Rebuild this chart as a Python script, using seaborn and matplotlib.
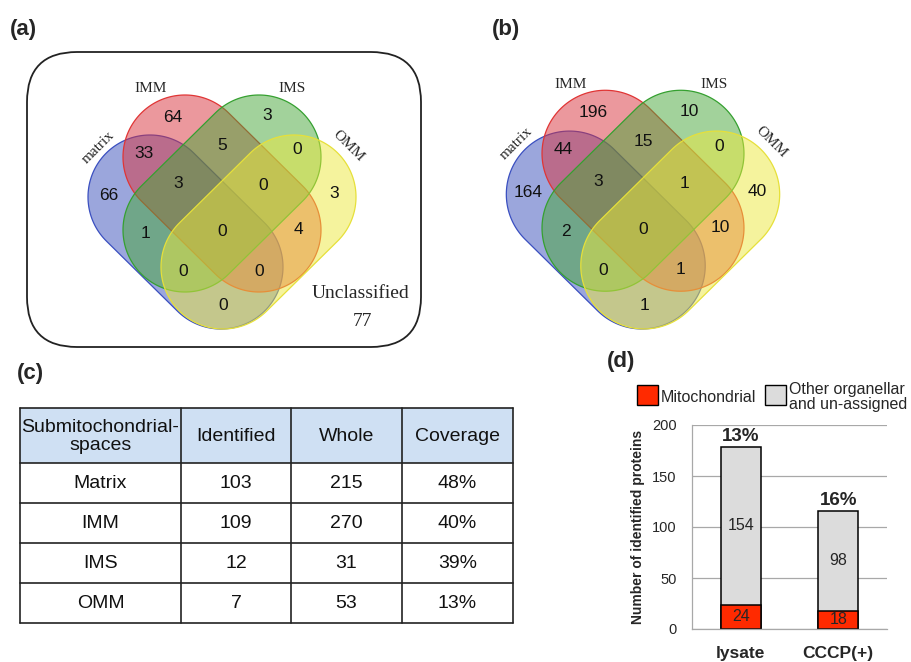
"""
Submitochondrial proteome figure: two 4-set Venn diagrams, a coverage table
and a stacked bar chart of identified proteins.
"""
import numpy as np
import pandas as pd
import matplotlib
matplotlib.use('Agg')
import matplotlib.pyplot as plt
import seaborn as sns
from matplotlib.patches import Polygon, Rectangle, FancyBboxPatch

# ---- data -------------------------------------------------------------
set_names = ["matrix", "IMM", "IMS", "OMM"]
# region order: matrix, IMM, IMS, OMM, m&IMM, IMM&IMS, IMS&OMM,
# m&IMM&IMS, IMM&IMS&OMM, all, m&IMS, IMM&OMM, m&IMS&OMM, m&IMM&OMM, m&OMM
venn_a_counts = [66, 64, 3, 3, 33, 5, 0, 3, 0, 0, 1, 4, 0, 0, 0]
venn_b_counts = [164, 196, 10, 40, 44, 15, 0, 3, 1, 0, 2, 10, 0, 1, 1]
unclassified_a = 77

table_header = ["Submitochondrial-\nspaces", "Identified", "Whole", "Coverage"]
spaces = ["Matrix", "IMM", "IMS", "OMM"]
identified = [103, 109, 12, 7]
whole = [215, 270, 31, 53]
coverage = ["48%", "40%", "39%", "13%"]

samples = ["lysate", "CCCP(+)"]
mito = [24, 18]
other = [154, 98]
pct_labels = ["13%", "16%"]

# ---- style ------------------------------------------------------------
sns.set_theme(style="white")
plt.rcParams['font.family'] = ['Liberation Sans', 'DejaVu Sans']
SERIF = ['Liberation Serif', 'DejaVu Serif']

W, H = 911, 662
fig = plt.figure(figsize=(W / 100, H / 100), dpi=100)
fig.patch.set_facecolor('white')

# background axes in pixel units (y down)
bg = fig.add_axes([0, 0, 1, 1])
bg.set_xlim(0, W)
bg.set_ylim(H, 0)
bg.axis('off')

set_colors = [(0.22, 0.31, 0.73), (0.85, 0.20, 0.24), (0.28, 0.65, 0.22), (0.93, 0.91, 0.24)]
edge_colors = ["#3a4fc0", "#e03535", "#35a030", "#e6e03a"]


def capsule(p1, p2, r, n=80):
    """Polygon points of a stadium shape between two cap centres."""
    p1 = np.asarray(p1, float)
    p2 = np.asarray(p2, float)
    th = np.arctan2(p2[1] - p1[1], p2[0] - p1[0])
    a2 = np.linspace(th - np.pi / 2, th + np.pi / 2, n)
    a1 = np.linspace(th + np.pi / 2, th + 3 * np.pi / 2, n)
    return np.vstack([p2 + r * np.c_[np.cos(a2), np.sin(a2)],
                      p1 + r * np.c_[np.cos(a1), np.sin(a1)]])


def draw_venn(ax, cx, cy, s, counts):
    shapes = [((-72, -34), (-1, 36)), ((-37, -74), (37, -1)),
              ((37, -74), (-37, -1)), ((72, -34), (1, 36))]
    for (p1, p2), fc, ec in zip(shapes, set_colors, edge_colors):
        pts = capsule((cx + s * p1[0], cy + s * p1[1]),
                      (cx + s * p2[0], cy + s * p2[1]), 62 * s)
        ax.add_patch(Polygon(pts, closed=True, facecolor=(*fc, 0.5),
                             edgecolor=ec, lw=0.9))
    offsets = [(-113, -36), (-49, -114), (45, -115), (112, -37),
               (-78, -78), (0, -86), (75, -81),
               (-44, -47), (41, -45), (0, 0),
               (-76, 2), (76, -1), (-39, 41), (37, 40), (1, 75)]
    for (dx, dy), c in zip(offsets, counts):
        ax.text(cx + s * dx, cy + s * dy, str(c), ha='center', va='center',
                fontsize=12.5, color='#111111')
    lab_pos = [(-124, -84, 45), (-71, -142, 0), (70, -142, 0), (126, -85, -45)]
    for (dx, dy, rot), name in zip(lab_pos, set_names):
        ax.text(cx + s * dx, cy + s * dy, name, ha='center', va='center',
                rotation=rot, fontsize=11, family=SERIF)


# ---- (a) ---------------------------------------------------------------
bg.add_patch(FancyBboxPatch((27, 52), 394, 295,
                            boxstyle="round,pad=0,rounding_size=50",
                            facecolor='white', edgecolor='#222222', lw=1.3))
draw_venn(bg, 222, 231, 1.0, venn_a_counts)
bg.text(361, 294, "Unclassified", ha='center', va='center', fontsize=14, family=SERIF)
bg.text(363, 321, str(unclassified_a), ha='center', va='center', fontsize=14, family=SERIF)

# ---- (b) ---------------------------------------------------------------
draw_venn(bg, 643, 229, 1.02, venn_b_counts)

# ---- (c) table ---------------------------------------------------------
col_x = [20, 181, 291, 402, 513]
row_y = [408, 463, 503, 543, 583, 623]
rows = [[sp, str(i), str(w), c] for sp, i, w, c in zip(spaces, identified, whole, coverage)]
bg.add_patch(Rectangle((col_x[0], row_y[0]), col_x[-1] - col_x[0], row_y[1] - row_y[0],
                       facecolor='#cfe0f3', edgecolor='none'))
for j, h in enumerate(table_header):
    bg.text((col_x[j] + col_x[j + 1]) / 2, (row_y[0] + row_y[1]) / 2 + 1, h,
            ha='center', va='center', fontsize=14, linespacing=1.1, color='#111111')
for i, row in enumerate(rows):
    for j, val in enumerate(row):
        bg.text((col_x[j] + col_x[j + 1]) / 2, (row_y[i + 1] + row_y[i + 2]) / 2 + 1, val,
                ha='center', va='center', fontsize=14, color='#111111')
for y in row_y:
    bg.plot([col_x[0], col_x[-1]], [y, y], color='#222222', lw=1.2)
for x in col_x:
    bg.plot([x, x], [row_y[0], row_y[-1]], color='#222222', lw=1.2)

# ---- (d) stacked bars --------------------------------------------------
axd = fig.add_axes([692 / W, 1 - 629 / H, 195 / W, 204 / H])
df = pd.DataFrame({"sample": samples, "mito": mito, "other": other})
df["total"] = df["mito"] + df["other"]
sns.barplot(data=df, x="sample", y="total", color="#dcdcdc", saturation=1,
            edgecolor="black", linewidth=1.1, width=0.41, ax=axd)
sns.barplot(data=df, x="sample", y="mito", color="#ff2a00", saturation=1,
            edgecolor="black", linewidth=1.1, width=0.41, ax=axd)
for i, r in df.iterrows():
    axd.text(i, r["mito"] / 2, str(r["mito"]), ha='center', va='center', fontsize=11.5)
    axd.text(i, r["mito"] + r["other"] / 2, str(r["other"]), ha='center', va='center', fontsize=11.5)
    axd.text(i, r["total"] + 2, pct_labels[i], ha='center', va='bottom',
             fontsize=13.5, fontweight='bold')
axd.set_xlim(-0.5, 1.5)
axd.set_ylim(0, 200)
axd.set_yticks([0, 50, 100, 150, 200])
axd.yaxis.grid(True, color='#a8a8a8', lw=0.9)
axd.set_axisbelow(True)
for side in ['top', 'right']:
    axd.spines[side].set_visible(False)
for side in ['left', 'bottom']:
    axd.spines[side].set_color('#a8a8a8')
    axd.spines[side].set_linewidth(0.9)
axd.set_xticks([-0.5, 0.5, 1.5], minor=True)
axd.tick_params(axis='x', which='major', length=0, pad=12, labelsize=12.5)
axd.tick_params(axis='x', which='minor', length=5, color='#a8a8a8', direction='out')
axd.tick_params(axis='y', length=4, color='#a8a8a8', direction='out', pad=7, labelsize=10.5)
for lab in axd.get_xticklabels():
    lab.set_fontweight('bold')
axd.set_xlabel('')
axd.set_ylabel('Number of identified proteins', fontsize=10, fontweight='bold', labelpad=5)

# legend for (d)
bg.add_patch(Rectangle((637, 385), 21, 20, facecolor='#ff2a00', edgecolor='black', lw=1))
bg.text(661, 397, "Mitochondrial", ha='left', va='center', fontsize=11.5)
bg.add_patch(Rectangle((765, 385), 21, 20, facecolor='#dcdcdc', edgecolor='black', lw=1))
bg.text(789, 397, "Other organellar\nand un-assigned", ha='left', va='center',
        fontsize=11.5, linespacing=0.95)

# ---- panel letters ------------------------------------------------------
for txt, x, y in [("(a)", 10, 29), ("(b)", 492, 29), ("(c)", 17, 373), ("(d)", 607, 361)]:
    bg.text(x, y, txt, ha='left', va='center', fontsize=16, fontweight='bold')

fig.savefig('out.png', dpi=100)
